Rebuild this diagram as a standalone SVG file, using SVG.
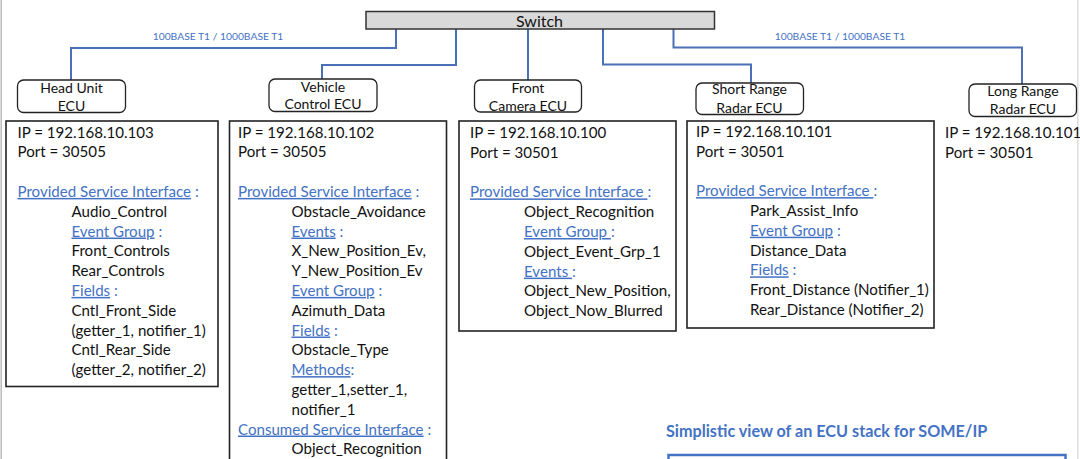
<svg xmlns="http://www.w3.org/2000/svg" width="1080" height="459" viewBox="0 0 1080 459">
<style>
text{font-family:Lato,"Open Sans","Liberation Sans",sans-serif;fill:#111}
.t{font-size:15.1px}
.e{font-size:14px;text-anchor:middle}
.b{fill:#4472C4}
.u{fill:#4472C4;text-decoration:underline}
.lbl{font-size:10.3px;fill:#4472C4;text-anchor:middle}
.ecu{fill:#fff;stroke:#222;stroke-width:1.3}
.info{fill:#fff;stroke:#222;stroke-width:1.6}
.c{fill:none;stroke:#4A70B8;stroke-width:2}
</style>
<rect width="1080" height="459" fill="#fff"/>
<line x1="1.2" y1="0" x2="1.2" y2="459" stroke="#bbb" stroke-width="1.5"/>
<line x1="1077.8" y1="0" x2="1077.8" y2="459" stroke="#ddd" stroke-width="1.5"/>

<g id="connectors">
<path class="c" d="M396,29 V48 H71 V80"/>
<path class="c" d="M456,29 V65 H322 V79"/>
<path class="c" d="M528,29 V80"/>
<path class="c" d="M603,29 V64.5 H751 V83"/>
<path class="c" d="M673.5,29 V47.5 H1022 V84"/>
<text class="lbl" x="218" y="40">100BASE T1 / 1000BASE T1</text>
<text class="lbl" x="840" y="40">100BASE T1 / 1000BASE T1</text>
</g>

<g id="switch">
<rect x="366" y="11.5" width="348.5" height="17.5" fill="#D9D9D9" stroke="#333" stroke-width="1.5"/>
<text x="539.5" y="26.5" style="font-size:16px" text-anchor="middle">Switch</text>
</g>

<g id="head-unit-ecu">
<rect class="ecu" x="17.5" y="80" width="108" height="32.5" rx="6"/>
<text class="e" x="71.5" y="93.3">Head Unit</text>
<text class="e" x="71.5" y="111">ECU</text>
</g>
<g id="vehicle-control-ecu">
<rect class="ecu" x="269" y="79" width="108" height="32.5" rx="6"/>
<text class="e" x="323" y="91.7">Vehicle</text>
<text class="e" x="323" y="109.3">Control ECU</text>
</g>
<g id="front-camera-ecu">
<rect class="ecu" x="474.5" y="80" width="107" height="32" rx="6"/>
<text class="e" x="528" y="92.7">Front</text>
<text class="e" x="528" y="111">Camera ECU</text>
</g>
<g id="short-range-radar-ecu">
<rect class="ecu" x="696" y="83" width="107.5" height="31.5" rx="6"/>
<text class="e" x="749.5" y="94.3">Short Range</text>
<text class="e" x="749.5" y="112.7">Radar ECU</text>
</g>
<g id="long-range-radar-ecu">
<rect class="ecu" x="969" y="84" width="107.5" height="32.5" rx="6"/>
<text class="e" x="1023" y="96">Long Range</text>
<text class="e" x="1023" y="114.3">Radar ECU</text>
</g>

<g id="head-unit-info">
<rect class="info" x="6" y="121" width="212" height="265.5"/>
<g class="t">
<text x="17.5" y="137.5">IP = 192.168.10.103</text>
<text x="17.5" y="157.3">Port = 30505</text>
<text x="17.5" y="196.9"><tspan class="u">Provided Service Interface</tspan><tspan class="b"> :</tspan></text>
<text x="71.5" y="216.7">Audio_Control</text>
<text x="71.5" y="236.5"><tspan class="u">Event Group</tspan><tspan class="b"> :</tspan></text>
<text x="71.5" y="256.3">Front_Controls</text>
<text x="71.5" y="276.1">Rear_Controls</text>
<text x="71.5" y="295.9"><tspan class="u">Fields</tspan><tspan class="b"> :</tspan></text>
<text x="71.5" y="315.7">Cntl_Front_Side</text>
<text x="71.5" y="335.5">(getter_1, notifier_1)</text>
<text x="71.5" y="355.3">Cntl_Rear_Side</text>
<text x="71.5" y="375.1">(getter_2, notifier_2)</text>
</g>
</g>

<g id="vehicle-control-info">
<rect class="info" x="229.5" y="121" width="217" height="345"/>
<g class="t">
<text x="238" y="137.5">IP = 192.168.10.102</text>
<text x="238" y="157.3">Port = 30505</text>
<text x="238" y="196.9"><tspan class="u">Provided Service Interface</tspan><tspan class="b"> :</tspan></text>
<text x="291.5" y="216.7">Obstacle_Avoidance</text>
<text x="291.5" y="236.5"><tspan class="u">Events</tspan><tspan class="b"> :</tspan></text>
<text x="291.5" y="256.3">X_New_Position_Ev,</text>
<text x="291.5" y="276.1">Y_New_Position_Ev</text>
<text x="291.5" y="295.9"><tspan class="u">Event Group</tspan><tspan class="b"> :</tspan></text>
<text x="291.5" y="315.7">Azimuth_Data</text>
<text x="291.5" y="335.5"><tspan class="u">Fields</tspan><tspan class="b"> :</tspan></text>
<text x="291.5" y="355.3">Obstacle_Type</text>
<text x="291.5" y="375.1"><tspan class="u">Methods</tspan><tspan class="b">:</tspan></text>
<text x="291.5" y="394.9">getter_1,setter_1,</text>
<text x="291.5" y="414.7">notifier_1</text>
<text x="238" y="434.5"><tspan class="u">Consumed Service Interface</tspan><tspan class="b"> :</tspan></text>
<text x="291.5" y="454.3">Object_Recognition</text>
</g>
</g>

<g id="front-camera-info">
<rect class="info" x="459" y="121" width="217" height="210"/>
<g class="t">
<text x="470" y="138">IP = 192.168.10.100</text>
<text x="470" y="157.8">Port = 30501</text>
<text x="470" y="197.4"><tspan class="u">Provided Service Interface </tspan><tspan class="b">:</tspan></text>
<text x="524" y="217.2">Object_Recognition</text>
<text x="524" y="237"><tspan class="u">Event Group </tspan><tspan class="b">:</tspan></text>
<text x="524" y="256.8">Object_Event_Grp_1</text>
<text x="524" y="276.6"><tspan class="u">Events </tspan><tspan class="b">:</tspan></text>
<text x="524" y="296.4">Object_New_Position,</text>
<text x="524" y="316.2">Object_Now_Blurred</text>
</g>
</g>

<g id="short-range-radar-info">
<rect class="info" x="687" y="121" width="247" height="207"/>
<g class="t">
<text x="696" y="136.7">IP = 192.168.10.101</text>
<text x="696" y="156.5">Port = 30501</text>
<text x="696" y="196.1"><tspan class="u">Provided Service Interface </tspan><tspan class="b">:</tspan></text>
<text x="750" y="215.9">Park_Assist_Info</text>
<text x="750" y="235.7"><tspan class="u">Event Group</tspan><tspan class="b"> :</tspan></text>
<text x="750" y="255.5">Distance_Data</text>
<text x="750" y="275.3"><tspan class="u">Fields</tspan><tspan class="b"> :</tspan></text>
<text x="750" y="295.1">Front_Distance (Notifier_1)</text>
<text x="750" y="314.9">Rear_Distance (Notifier_2)</text>
</g>
</g>

<g id="long-range-radar-info">
<g class="t">
<text x="945" y="138.3">IP = 192.168.10.101</text>
<text x="945" y="158.1">Port = 30501</text>
</g>
</g>

<g id="ecu-stack">
<text x="666" y="437" style="font-size:16.2px;font-weight:bold;fill:#4472C4">Simplistic view of an ECU stack for SOME/IP</text>
<rect x="668.5" y="455" width="397" height="20" fill="none" stroke="#4472C4" stroke-width="2.5"/>
</g>
</svg>
